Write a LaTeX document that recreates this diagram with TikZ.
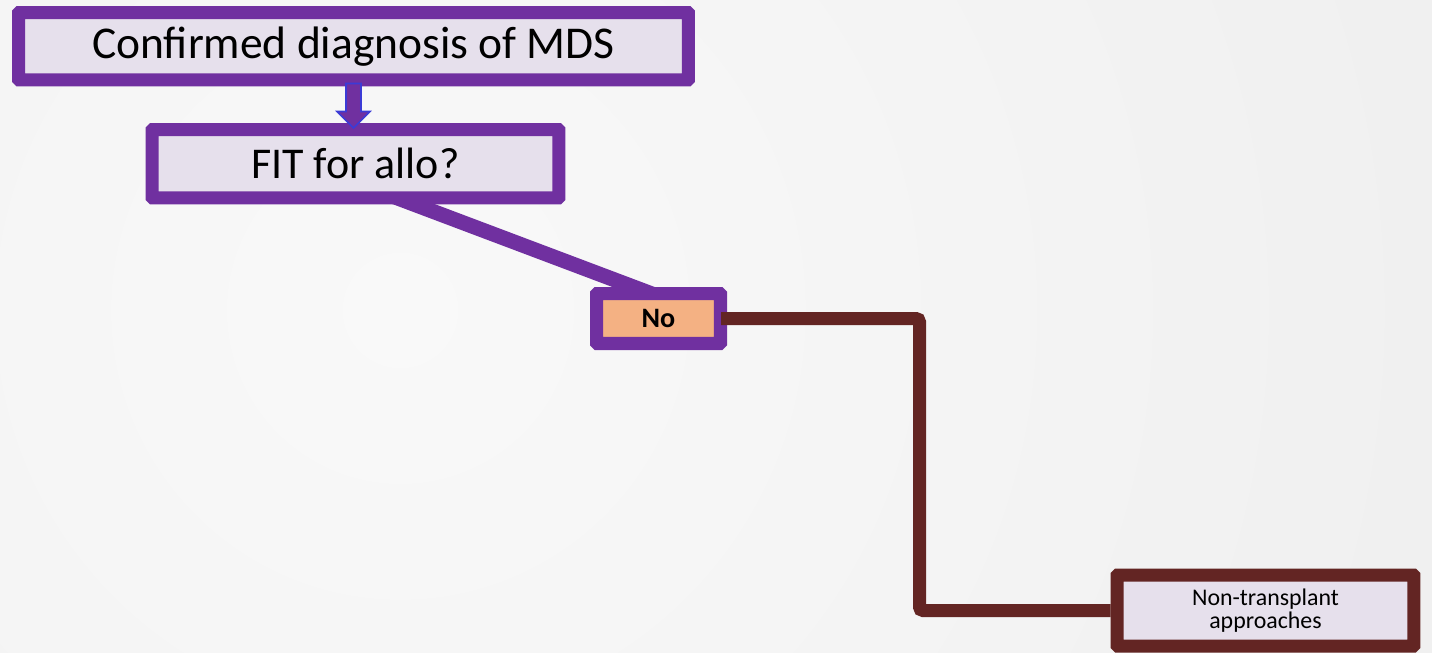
\documentclass[tikz,border=0pt]{standalone}
\usepackage{fontspec}
\setmainfont{Carlito}
\usetikzlibrary{calc,positioning}
\pgfdeclarelayer{bg}
\pgfsetlayers{bg,main}
\definecolor{mdspurple}{HTML}{7030A0}
\definecolor{mdsbrown}{HTML}{632523}
\definecolor{mdslav}{HTML}{E6E0EC}
\definecolor{mdspeach}{HTML}{F4B183}
\definecolor{mdsblue}{HTML}{3B3BD6}
\definecolor{bgin}{HTML}{F9F9F9}
\definecolor{bgout}{HTML}{E6E6E6}
\tikzset{
  stepbox/.style={draw=mdspurple, line width=7.4pt, fill=mdslav, rounded corners=0.4pt, inner sep=0pt, align=center},
  bigtext/.style={font=\fontsize{25}{30}\selectfont},
  answer/.style={stepbox, fill=mdspeach, font=\fontsize{16}{19}\selectfont\bfseries},
  outcome/.style={stepbox, draw=mdsbrown, font=\fontsize{13.6}{13}\selectfont},
  alloline/.style={draw=mdspurple, line width=8.5pt},
  txline/.style={draw=mdsbrown, line width=7.4pt, rounded corners=2pt},
  blockarrow/.style={draw=mdsblue, fill=mdspurple, line width=0.9pt, line join=miter}
}

\begin{document}
\begin{tikzpicture}[x=0.02cm, y=-0.02cm]
\useasboundingbox (0,0) rectangle (1432,652);

\node[stepbox, font=\fontsize{25.9}{30}\selectfont, minimum width=13.4cm, minimum height=1.35cm] (diag) at (353.5,46.25) {Confirmed diagnosis of MDS};
\node[stepbox, bigtext, minimum width=8.14cm, minimum height=1.37cm] (fit) at (355.5,163.75) {FIT for allo?};
\node[answer, minimum width=2.48cm, minimum height=1.0cm] (no) at (658.5,318.5) {No};
\node[outcome, minimum width=5.94cm, minimum height=1.42cm] (nontx) at (1265.5,610.5) {Non-transplant\\approaches};

\begin{pgfonlayer}{bg}
\begin{scope}
\clip (0,0) rectangle (1432,652);
\shade[inner color=bgin, outer color=bgout] (400,310) circle[radius=2200];
\end{scope}
\draw[alloline] ($(fit.south)+(7.5,-19.5)$) -- ($(no.north)+(22.8,18)$);
\end{pgfonlayer}

\draw[blockarrow] (diag.south) ++(-7.5,-3) -- ++(0,28) -- ++(-9,0) -- ++(16.5,16.5) -- ++(16.5,-16.5) -- ++(-9,0) -- ++(0,-28) -- cycle;
\draw[txline] ($(no.east)+(-6,0)$) -- ++(198.5,0) |- (nontx.west);

\end{tikzpicture}
\end{document}
